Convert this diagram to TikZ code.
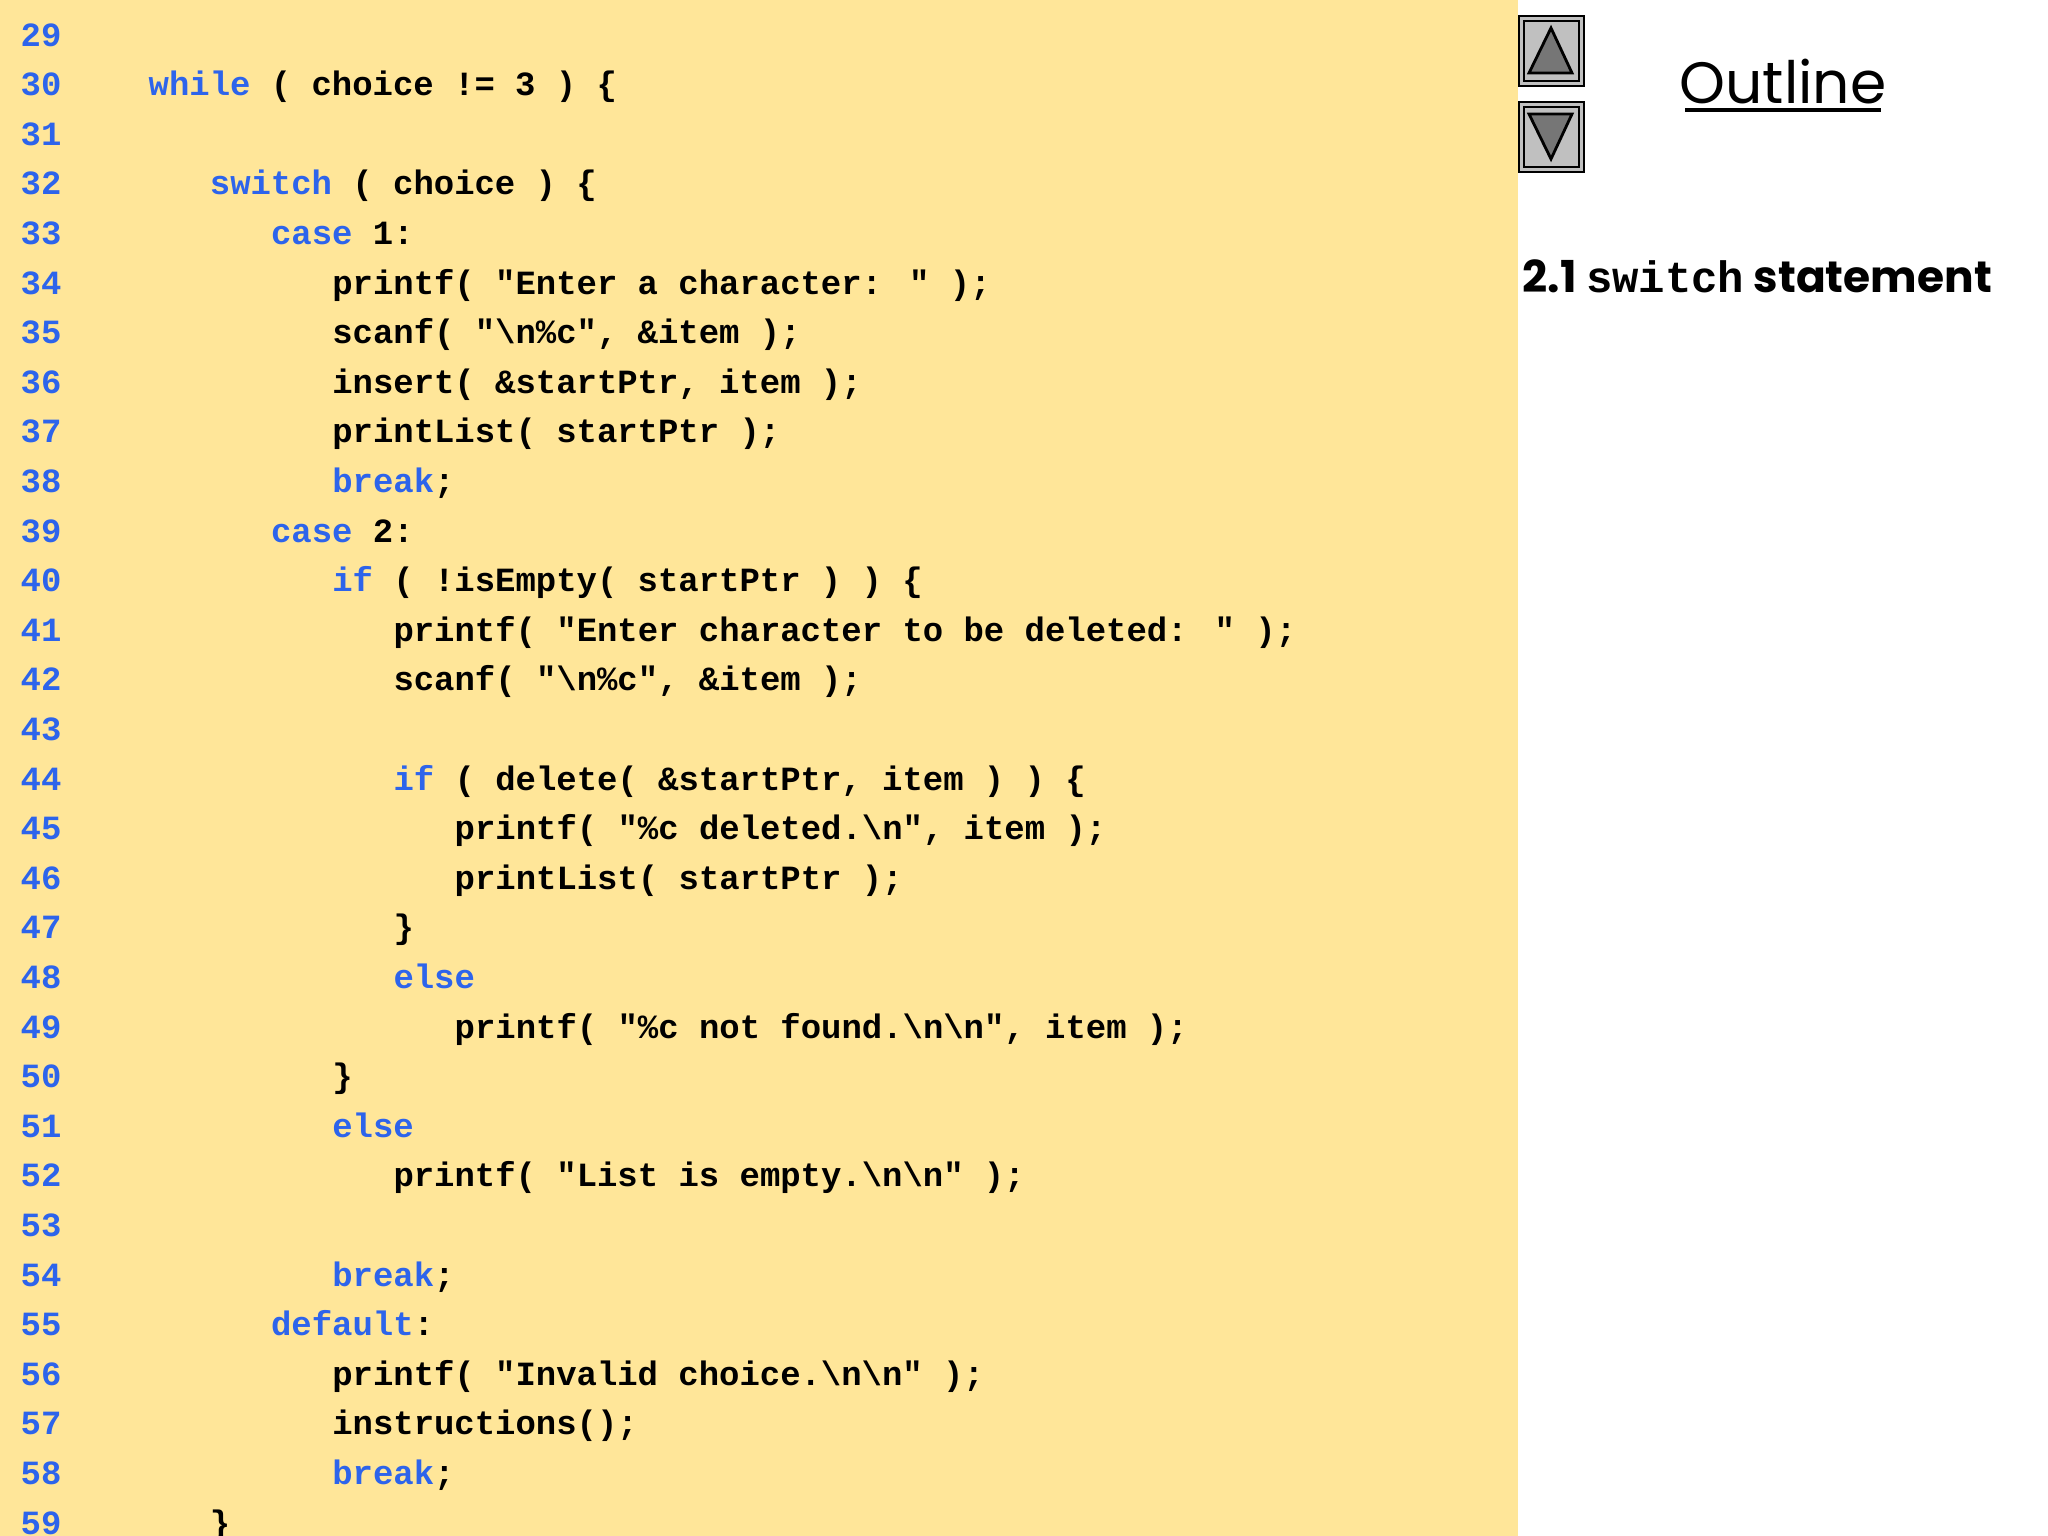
\documentclass[tikz,border=0pt]{standalone}
\usepackage{fontspec}
\newfontfamily\codef{Liberation Mono}[BoldFont={Liberation Mono Bold}]
\newfontfamily\gothf{Poppins}
\definecolor{bgy}{RGB}{255,230,153}
\definecolor{kw}{RGB}{45,100,235}
\definecolor{btn}{RGB}{192,192,192}
\definecolor{tri}{RGB}{118,118,118}
\tikzset{
  num/.style={anchor=base west,inner sep=0pt,font=\codef\bfseries\fontsize{9.65pt}{12pt}\selectfont,text=kw},
  code/.style={anchor=base west,inner sep=0pt,font=\codef\bfseries\fontsize{9.65pt}{12pt}\selectfont},
  btnbox/.style={draw=black,line width=0.8pt,fill=btn},
}
\newcommand{\K}[1]{\textcolor{kw}{#1}}
\newcommand{\CL}[3]{\node[num] (n#1) at (20,{34+12+(#1-29)*49.6}) {#1};
  \node[code] (c#1) at ({148+#2*61.2},{34+12+(#1-29)*49.6}) {#3};}
\begin{document}
\begin{tikzpicture}[x=0.01cm,y=-0.01cm]
\useasboundingbox (0,0) rectangle (2048,1536);
\fill[bgy] (0,0) rectangle (1518,1536);
\CL{29}{0}{}
\CL{30}{0}{\K{while} ( choice != 3 ) \{}
\CL{31}{0}{}
\CL{32}{1}{\K{switch} ( choice ) \{}
\CL{33}{2}{\K{case} 1:}
\CL{34}{3}{printf( "Enter a character: " );}
\CL{35}{3}{scanf( "\textbackslash n\%c", \&item );}
\CL{36}{3}{insert( \&startPtr, item );}
\CL{37}{3}{printList( startPtr );}
\CL{38}{3}{\K{break};}
\CL{39}{2}{\K{case} 2:}
\CL{40}{3}{\K{if} ( !isEmpty( startPtr ) ) \{}
\CL{41}{4}{printf( "Enter character to be deleted: " );}
\CL{42}{4}{scanf( "\textbackslash n\%c", \&item );}
\CL{43}{0}{}
\CL{44}{4}{\K{if} ( delete( \&startPtr, item ) ) \{}
\CL{45}{5}{printf( "\%c deleted.\textbackslash n", item );}
\CL{46}{5}{printList( startPtr );}
\CL{47}{4}{\}}
\CL{48}{4}{\K{else}}
\CL{49}{5}{printf( "\%c not found.\textbackslash n\textbackslash n", item );}
\CL{50}{3}{\}}
\CL{51}{3}{\K{else}}
\CL{52}{4}{printf( "List is empty.\textbackslash n\textbackslash n" );}
\CL{53}{0}{}
\CL{54}{3}{\K{break};}
\CL{55}{2}{\K{default}:}
\CL{56}{3}{printf( "Invalid choice.\textbackslash n\textbackslash n" );}
\CL{57}{3}{instructions();}
\CL{58}{3}{\K{break};}
\CL{59}{1}{\}}
% buttons
\draw[btnbox] (1519,16) rectangle (1584,86);
\draw[line width=0.6pt] (1524,21) rectangle (1579,81);
\draw[fill=tri,line width=0.8pt] (1551,28) -- (1572,73) -- (1529,73) -- cycle;
\draw[btnbox] (1519,102) rectangle (1584,172);
\draw[line width=0.6pt] (1524,107) rectangle (1579,167);
\draw[fill=tri,line width=0.8pt] (1529,114) -- (1572,114) -- (1551,159) -- cycle;
% outline
\node[anchor=base,inner sep=0pt,font=\gothf\fontsize{16.6pt}{20pt}\selectfont] (ol) at (1783,103) {Outline};
\draw[line width=1.2pt] (1685,110) -- (1881,110);
\node[anchor=base west,inner sep=0pt,font=\gothf\bfseries\fontsize{12.5pt}{16pt}\selectfont] (sec) at (1522,292) {2.1 {\codef\bfseries switch} statement};
\end{tikzpicture}
\end{document}
